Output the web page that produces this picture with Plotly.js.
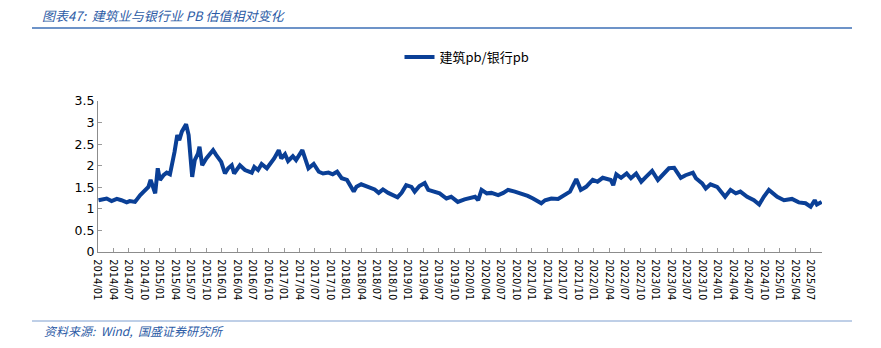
<!DOCTYPE html>
<html>
<head>
<meta charset="utf-8">
<script src="https://cdn.plot.ly/plotly-3.0.1.min.js"></script>
<style>
  html, body { margin: 0; padding: 0; background: #ffffff; }
  #chart { width: 881px; height: 348px; }
</style>
</head>
<body>
<div id="chart"></div>
<script>
// ---- Data ----
const seriesName = '建筑pb/银行pb';
const chartTitle = '图表47:  建筑业与银行业 PB 估值相对变化';
const sourceText = '资料来源:  Wind,  国盛证券研究所';

const dates = [
  '2014-01-04','2014-02-21','2014-03-22','2014-04-22','2014-05-19','2014-06-19','2014-07-07','2014-08-07',
  '2014-09-07','2014-10-04','2014-10-25','2014-11-07','2014-11-19','2014-12-04','2014-12-19','2015-01-01',
  '2015-01-22','2015-02-10','2015-03-01','2015-03-13','2015-03-28','2015-04-13','2015-04-25','2015-05-10',
  '2015-05-25','2015-06-04','2015-06-19','2015-07-01','2015-07-10','2015-07-25','2015-08-13','2015-08-22',
  '2015-09-07','2015-10-01','2015-11-10','2015-11-28','2015-12-28','2016-01-19','2016-02-07','2016-02-28',
  '2016-03-13','2016-04-16','2016-05-16','2016-06-25','2016-07-10','2016-08-01','2016-08-22','2016-09-22',
  '2016-11-04','2016-12-01','2016-12-16','2017-01-07','2017-01-25','2017-02-22','2017-03-13','2017-04-19',
  '2017-05-07','2017-05-25','2017-06-25','2017-07-25','2017-08-19','2017-09-20','2017-10-15','2017-11-10',
  '2017-12-07','2018-01-07',
  '2018-02-16','2018-03-04','2018-04-01','2018-05-13','2018-06-19','2018-07-13','2018-08-07','2018-09-07',
  '2018-11-01','2018-11-25','2018-12-22','2019-01-22','2019-02-10','2019-03-10','2019-04-10','2019-05-01',
  '2019-05-28','2019-07-07','2019-08-16','2019-09-13','2019-10-22','2019-12-01','2020-02-01','2020-02-19',
  '2020-03-10','2020-04-10','2020-05-07','2020-06-16','2020-07-16','2020-08-13','2020-09-22','2020-11-01',
  '2020-12-07','2021-01-07','2021-02-25','2021-03-19','2021-04-25','2021-06-04','2021-07-01','2021-08-13',
  '2021-09-19','2021-10-16','2021-11-16','2021-12-25','2022-01-22','2022-02-22','2022-04-10','2022-04-25',
  '2022-05-13','2022-06-10','2022-07-13','2022-08-07','2022-09-07','2022-10-07','2022-11-04','2022-12-10',
  '2023-01-13','2023-02-10','2023-03-19','2023-04-19','2023-05-28','2023-06-25','2023-08-07','2023-08-25',
  '2023-10-01','2023-10-22','2023-11-19','2023-12-28','2024-02-13','2024-03-16','2024-04-16','2024-05-13',
  '2024-06-22','2024-08-01','2024-09-01','2024-09-28','2024-10-28','2024-12-16','2025-01-25','2025-03-13',
  '2025-04-22','2025-06-01','2025-07-01','2025-07-25','2025-08-07','2025-09-04'
];

const ratio = [
  1.20,1.24,1.18,1.23,1.20,1.15,1.18,1.16,
  1.32,1.41,1.51,1.67,1.51,1.36,1.94,1.67,
  1.78,1.84,1.80,2.01,2.32,2.71,2.59,2.79,
  2.90,2.96,2.71,2.25,1.74,2.13,2.28,2.44,
  2.01,2.17,2.36,2.25,2.09,1.82,1.94,2.01,
  1.82,2.01,1.90,1.84,1.97,1.90,2.04,1.94,
  2.17,2.36,2.17,2.27,2.11,2.22,2.13,2.36,
  2.17,1.94,2.04,1.86,1.82,1.84,1.80,1.86,
  1.71,1.67,
  1.40,1.51,1.57,1.50,1.45,1.37,1.45,1.37,
  1.27,1.37,1.55,1.51,1.40,1.53,1.60,1.44,
  1.40,1.36,1.24,1.28,1.16,1.22,1.28,1.20,
  1.44,1.36,1.37,1.32,1.37,1.44,1.40,1.36,
  1.30,1.24,1.13,1.20,1.24,1.23,1.30,1.40,
  1.69,1.44,1.51,1.67,1.63,1.72,1.67,1.55,
  1.80,1.72,1.82,1.71,1.82,1.63,1.74,1.88,
  1.67,1.78,1.94,1.95,1.72,1.78,1.84,1.71,
  1.59,1.47,1.57,1.51,1.28,1.44,1.36,1.40,
  1.28,1.20,1.10,1.28,1.44,1.28,1.20,1.23,
  1.15,1.13,1.05,1.20,1.10,1.16
];

// ---- Layout geometry ----
const W = 881, H = 348;
const M = { l: 98, r: 59, t: 101, b: 96 };
const pw = W - M.l - M.r, ph = H - M.t - M.b;
const px = x => (x - M.l) / pw;
const py = y => (H - M.b - y) / ph;

const blue = '#0a3f96';
const txtBlue = '#2d5ca6';

const trace = {
  type: 'scatter',
  mode: 'lines',
  x: dates,
  y: ratio,
  name: seriesName,
  line: { color: blue, width: 4 },
  showlegend: true
};

const layout = {
  width: W, height: H,
  margin: M,
  paper_bgcolor: '#ffffff',
  plot_bgcolor: '#ffffff',
  font: { family: 'DejaVu Sans, Verdana, sans-serif', color: '#000000', size: 12 },
  showlegend: true,
  legend: {
    orientation: 'h',
    x: px(467), xanchor: 'center',
    y: py(57), yanchor: 'middle',
    font: { family: '"Noto Sans CJK SC", DejaVu Sans, sans-serif', size: 13, color: '#000000' },
    bgcolor: 'rgba(0,0,0,0)',
    itemwidth: 30
  },
  xaxis: {
    type: 'date',
    range: ['2014-01-01', '2025-09-06'],
    tick0: '2014-01-01',
    dtick: 'M3',
    tickformat: '%Y/%m',
    tickangle: 90,
    ticks: 'inside',
    ticklen: 4,
    tickcolor: '#9a9a9a',
    ticklabelstandoff: 4,
    showline: true,
    linecolor: '#8c8c8c',
    linewidth: 1,
    showgrid: false,
    zeroline: false,
    tickfont: { family: '"DejaVu Sans Condensed", "DejaVu Sans", sans-serif', size: 11, color: '#000000' },
    fixedrange: true
  },
  yaxis: {
    range: [0, 3.5],
    dtick: 0.5,
    tick0: 0,
    ticks: 'inside',
    ticklen: 4,
    tickcolor: '#9a9a9a',
    showline: true,
    linecolor: '#8c8c8c',
    linewidth: 1,
    showgrid: false,
    zeroline: false,
    tickfont: { family: 'DejaVu Sans, Verdana, sans-serif', size: 12.5, color: '#000000' },
    fixedrange: true
  },
  shapes: [
    { type: 'line', xref: 'paper', yref: 'paper', x0: px(32), x1: px(852), y0: py(28), y1: py(28),
      line: { color: '#3c6fb6', width: 1.5 } },
    { type: 'line', xref: 'paper', yref: 'paper', x0: px(32), x1: px(852), y0: py(321), y1: py(321),
      line: { color: '#7f9fcf', width: 1 } }
  ],
  annotations: [
    { xref: 'paper', yref: 'paper', x: px(40), y: py(15), xanchor: 'left', yanchor: 'middle',
      text: '<i>' + chartTitle + '</i>', showarrow: false,
      font: { family: '"Noto Sans CJK SC", DejaVu Sans, sans-serif', size: 13, color: txtBlue } },
    { xref: 'paper', yref: 'paper', x: px(42), y: py(330), xanchor: 'left', yanchor: 'middle',
      text: '<i>' + sourceText + '</i>', showarrow: false,
      font: { family: '"Noto Sans CJK SC", DejaVu Sans, sans-serif', size: 12, color: txtBlue } }
  ]
};

Plotly.newPlot('chart', [trace], layout, { staticPlot: true, displayModeBar: false });
</script>
</body>
</html>
